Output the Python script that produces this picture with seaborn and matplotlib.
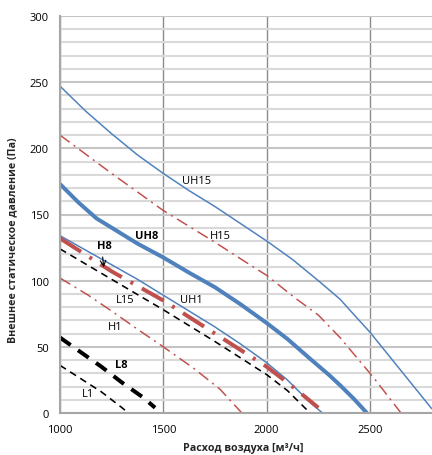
import matplotlib
matplotlib.use("Agg")
import matplotlib.pyplot as plt
import seaborn as sns
import numpy as np

# ---- data ----
uh15_x = [1000, 1125, 1250, 1375, 1500, 1625, 1750, 1875, 2000, 2125, 2250, 2355, 2430, 2500, 2650, 2800]
uh15_y = [247, 228, 211, 195, 181, 168, 156, 143, 130, 116, 100, 86, 73, 61, 32, 3]

h15_x = [1000, 1250, 1500, 1750, 1879, 2000, 2137, 2250, 2355, 2516, 2650]
h15_y = [210, 181, 153, 129, 116, 104, 87, 74, 57, 27, 0]

uh8_x = [1000, 1090, 1177, 1250, 1375, 1500, 1625, 1750, 1875, 2000, 2100, 2210, 2300, 2355, 2420, 2485]
uh8_y = [173, 159, 147, 140, 128, 117.5, 106, 95, 82, 68, 56, 41, 29, 21, 11, 0]

h8_x = [1000, 1250, 1500, 1750, 2000, 2125, 2250]
h8_y = [132, 107, 85, 60, 35, 20, 4]

uh1_x = [1000, 1125, 1250, 1375, 1500, 1625, 1750, 1875, 2000, 2100, 2210, 2270]
uh1_y = [134, 123, 112, 101, 89, 77, 65, 52, 38, 25, 8, 0]

l15_x = [1000, 1250, 1500, 1750, 2000, 2100, 2210]
l15_y = [124, 101, 78, 54, 29, 17, 0]

h1_x = [1000, 1137, 1250, 1387, 1500, 1645, 1774, 1880]
h1_y = [102, 89, 77, 62, 50, 34, 18, 0]

l8_x = [1000, 1100, 1200, 1300, 1400, 1460]
l8_y = [57, 46, 35, 23, 12, 4]

l1_x = [1000, 1100, 1200, 1300, 1330]
l1_y = [36, 26, 16, 4, 0]

labels = ["UH15", "H15", "UH8", "H8", "L15", "UH1", "H1", "L8", "L1"]
label_x = [1663, 1774, 1420, 1213, 1315, 1637, 1266, 1294, 1137]
label_y = [175.5, 134.5, 134.5, 126.4, 85.4, 85.4, 65.5, 36.3, 14.9]
label_bold = [False, False, True, True, False, False, False, True, False]

x_ticks = [1000, 1500, 2000, 2500]
y_ticks = [0, 50, 100, 150, 200, 250, 300]

# ---- style ----
sns.set_style("white")
plt.rcParams["font.family"] = ["Open Sans", "DejaVu Sans"]
plt.rcParams["lines.scale_dashes"] = False

BLUE = "#4F81BD"
RED = "#C0504D"
BLACK = "#000000"

fig = plt.figure(figsize=(4.32, 4.56), dpi=100)
ax = fig.add_axes([60 / 432, 42 / 456, 372 / 432, 397 / 456])

px = 0.72  # points per pixel

series = [
    (uh15_x, uh15_y, BLUE, 1.5, None),
    (h15_x, h15_y, RED, 1.5, (12, 5, 2, 5)),
    (uh8_x, uh8_y, BLUE, 4.0, None),
    (uh1_x, uh1_y, BLUE, 1.5, None),
    (h8_x, h8_y, RED, 4.0, (25, 10, 3, 10)),
    (l15_x, l15_y, BLACK, 1.6, (7, 5)),
    (h1_x, h1_y, RED, 1.5, (12, 5, 2, 5)),
    (l8_x, l8_y, BLACK, 4.0, (13, 9)),
    (l1_x, l1_y, BLACK, 1.6, (7, 5)),
]

for xs, ys, col, lw, dash in series:
    sns.lineplot(x=xs, y=ys, ax=ax, color=col, linewidth=lw * px, sort=False)
    line = ax.get_lines()[-1]
    line.set_solid_capstyle("butt")
    line.set_solid_joinstyle("round")
    if dash is not None:
        line.set_dashes([d * px for d in dash])
        line.set_dash_capstyle("butt")

ax.set_xlim(1000, 2800)
ax.set_ylim(0, 300)
ax.set_xticks(x_ticks)
ax.set_yticks(y_ticks)
ax.set_yticks(np.arange(0, 301, 10), minor=True)
ax.tick_params(axis="both", which="major", length=4, width=1, color="#A6A6A6",
               labelsize=8, labelcolor="#000000", pad=4, direction="out")
ax.tick_params(axis="y", which="minor", length=0)
ax.tick_params(axis="x", which="major", pad=4)

ax.set_axisbelow(True)
ax.grid(axis="y", which="minor", color="#D9D9D9", linewidth=1.5)
ax.grid(axis="y", which="major", color="#C4C4C4", linewidth=1.5)
ax.grid(axis="x", which="major", color="#8C8C8C", linewidth=1.0)

for s in ["top", "right"]:
    ax.spines[s].set_visible(False)
for s in ["left", "bottom"]:
    ax.spines[s].set_color("#A6A6A6")
    ax.spines[s].set_linewidth(1.5)

for t, xx, yy, b in zip(labels, label_x, label_y, label_bold):
    ax.text(xx, yy, t, fontsize=8, fontweight="bold" if b else "normal",
            ha="center", va="center", color="#000000")

ax.annotate("", xy=(1213, 108), xytext=(1205, 120),
            arrowprops=dict(arrowstyle="->", color="black", lw=0.8))

ax.set_xlabel("Расход воздуха [м³/ч]", fontsize=7.7, fontweight="bold")
ax.set_ylabel("Внешнее статическое давление (Па)", fontsize=7.7, fontweight="bold")
ax.xaxis.label.set_va("center")
ax.yaxis.label.set_va("center")
ax.xaxis.set_label_coords(0.492, -0.088)
ax.yaxis.set_label_coords(-0.126, 0.438)

fig.savefig("out.png", dpi=100)
